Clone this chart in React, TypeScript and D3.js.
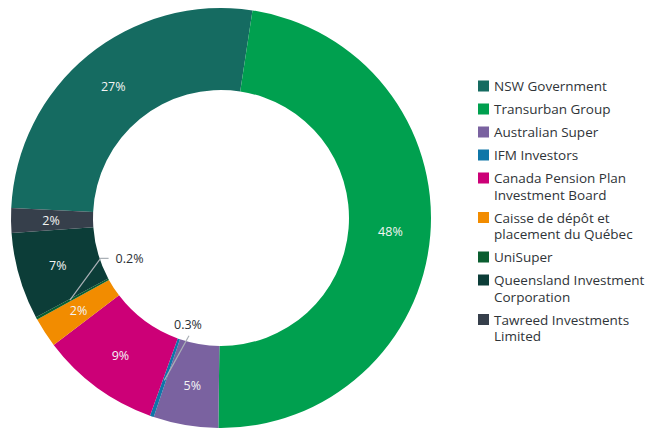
import * as d3 from "d3"

const names = [
  "NSW Government",
  "Transurban Group",
  "Australian Super",
  "IFM Investors",
  "Canada Pension Plan|Investment Board",
  "Caisse de dépôt et|placement du Québec",
  "UniSuper",
  "Queensland Investment|Corporation",
  "Tawreed Investments|Limited",
]
// shares; labels are the rounded figures shown
const shares = [26.7, 47.9, 5.0, 0.3, 9.2, 2.3, 0.2, 6.7, 1.9]
const labels = ["27%", "48%", "5%", "0.3%", "9%", "2%", "0.2%", "7%", "2%"]
const colors = [
  "#156b61",
  "#00a04f",
  "#7a62a0",
  "#0f76a8",
  "#cc0077",
  "#f28c00",
  "#0a5e30",
  "#0c3d38",
  "#363f4b",
]

type Row = { name: string; value: number; label: string; color: string }

export default function App() {
  const width = 646
  const height = 428
  const cx = 221
  const cy = 218
  const outerR = 210
  const innerR = 128
  const start = (-87.3 * Math.PI) / 180

  const rows: Row[] = names.map((n, i) => ({ name: n, value: shares[i], label: labels[i], color: colors[i] }))

  const pie = d3
    .pie<Row>()
    .value((d) => d.value)
    .sort(null)
    .startAngle(start)
    .endAngle(start + Math.PI * 2)
  const arcs = pie(rows)

  const arc = d3.arc<d3.PieArcDatum<Row>>().innerRadius(innerR).outerRadius(outerR)
  const midR = (innerR + outerR) / 2 + 1
  const labelArc = d3.arc<d3.PieArcDatum<Row>>().innerRadius(midR).outerRadius(midR)

  const polar = (a: number, r: number) => [Math.sin(a) * r, -Math.cos(a) * r]

  // legend layout
  const lineH = 16.5
  const gap = 6.5
  let ly = 86
  const legend = rows.map((d) => {
    const lines = d.name.split("|")
    const y = ly
    ly += lines.length * lineH + gap
    return { ...d, lines, y }
  })

  const font = "'Open Sans', 'Noto Sans', sans-serif"

  return (
    <svg
      width={width}
      height={height}
      style={{ position: "absolute", left: 0, top: 0, display: "block", background: "#fff" }}
    >
      <g transform={`translate(${cx},${cy})`}>
        {arcs.map((p) => (
          <path key={p.data.name} d={arc(p) || ""} fill={p.data.color} />
        ))}
        {arcs.map((p) => {
          const mid = (p.startAngle + p.endAngle) / 2
          if (p.data.value < 1) {
            const [sx, sy] = polar(mid, midR + 2)
            const small = p.data.value === 0.3
            const [ex, ey] = small ? polar(mid - 0.07, innerR - 6) : polar(mid + 0.175, innerR - 1)
            if (small) {
              return (
                <g key={p.data.name}>
                  <line x1={sx} y1={sy} x2={ex} y2={ey} stroke="#aab0b6" strokeWidth={1.2} />
                  <text x={ex - 1} y={ey - 7} textAnchor="middle" fontSize={12.5} fill="#2b3035" fontFamily={font}>
                    {p.data.label}
                  </text>
                </g>
              )
            }
            return (
              <g key={p.data.name}>
                <polyline
                  points={`${sx},${sy} ${ex},${ey} ${ex + 8},${ey}`}
                  fill="none"
                  stroke="#aab0b6"
                  strokeWidth={1.2}
                />
                <text x={ex + 15} y={ey + 5} fontSize={12.5} fill="#2b3035" fontFamily={font}>
                  {p.data.label}
                </text>
              </g>
            )
          }
          const [x, y] = labelArc.centroid(p)
          return (
            <text
              key={p.data.name}
              x={x}
              y={y + 4.5}
              textAnchor="middle"
              fontSize={12.5}
              fill="#f4f4f4"
              fontFamily={font}
            >
              {p.data.label}
            </text>
          )
        })}
      </g>

      <g fontFamily={font} fontSize={13.5} fill="#2f3438">
        {legend.map((d) => (
          <g key={d.name}>
            <rect x={478} y={d.y - 5.5} width={11} height={11} fill={d.color} />
            {d.lines.map((t, j) => (
              <text key={j} x={494} y={d.y + 5 + j * lineH}>
                {t}
              </text>
            ))}
          </g>
        ))}
      </g>
    </svg>
  )
}
